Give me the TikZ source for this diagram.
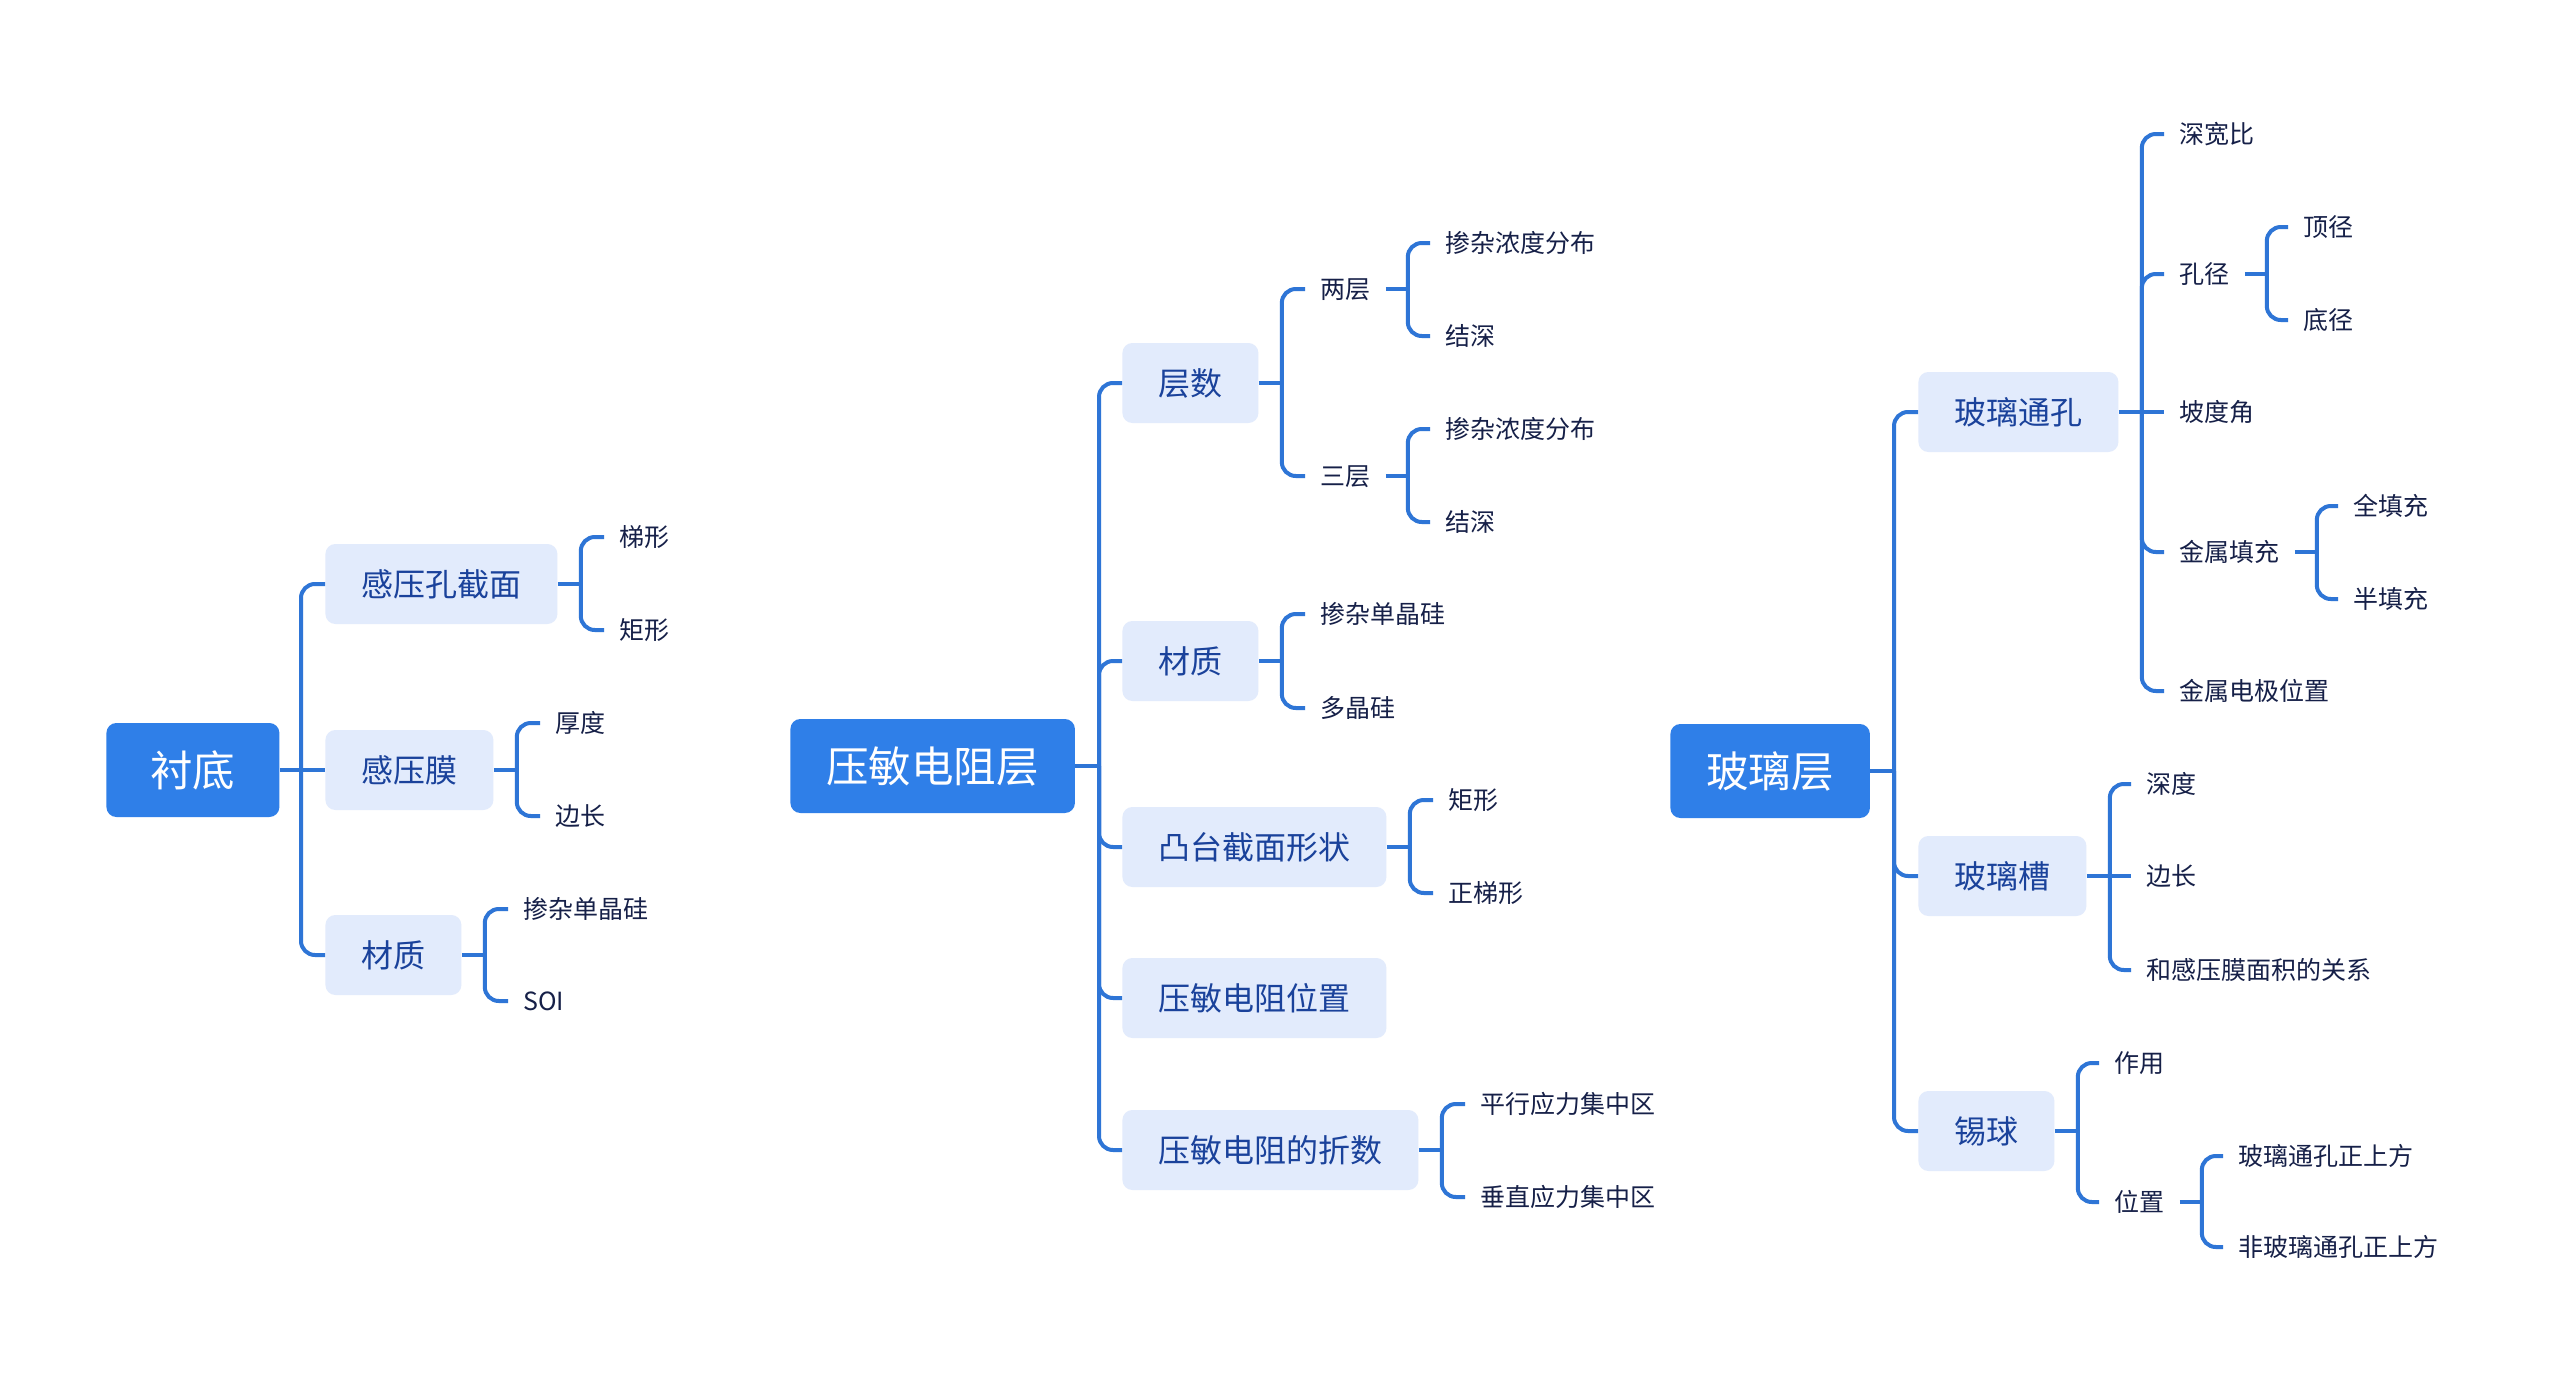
\documentclass[tikz,border=0pt]{standalone}
\usepackage{fontspec}
\newfontfamily\cjk{Noto Sans CJK SC}
\usetikzlibrary{calc}
\definecolor{rootblue}{RGB}{47,127,232}
\definecolor{subfill}{RGB}{226,235,252}
\definecolor{subtext}{RGB}{26,66,155}
\definecolor{leaftext}{RGB}{22,32,72}
\definecolor{linecol}{RGB}{46,117,214}
\newcommand\forkat[2]{\coordinate (#1-f) at ($(#1.east)+(#2,0)$);\draw[conn] (#1.east) -- (#1-f);}
\begin{document}
\begin{tikzpicture}[x=0.5pt,y=-0.5pt,
 rootbox/.style={fill=rootblue, text=white, rounded corners=5pt, font=\cjk\fontsize{21.25}{24}\selectfont, inner xsep=18pt, inner ysep=0pt, minimum height=47pt, anchor=west, text height=18.7pt, text depth=2.5pt},
 subbox/.style={fill=subfill, text=subtext, rounded corners=5pt, font=\cjk\fontsize{16}{19}\selectfont, inner xsep=18pt, inner ysep=0pt, minimum height=40pt, anchor=west, text height=14.1pt, text depth=1.9pt},
 leaf/.style={text=leaftext, font=\cjk\fontsize{12.5}{15}\selectfont, inner xsep=7.5pt, inner ysep=2pt, anchor=west, text height=11pt, text depth=1.5pt},
 conn/.style={draw=linecol, line width=2pt},
 elbow/.style={conn, rounded corners=7pt}]
\useasboundingbox[fill=white] (0,0) rectangle (2560,1381);

% ---------- Root 1: 衬底 ----------
\node[rootbox, minimum width=86.5pt] (r1) at (106,770) {衬底};
\node[subbox] (a1) at (325,584) {感压孔截面};
\node[subbox] (a2) at (325,770) {感压膜};
\node[subbox] (a3) at (325,955) {材质};
\coordinate (t1) at (301,770);
\draw[conn] (r1.east) -- (t1);
\draw[elbow] (t1) |- (a1.west);
\draw[conn] (t1) -- (a2.west);
\draw[elbow] (t1) |- (a3.west);

\node[leaf] (a1l1) at (604,537) {梯形};
\node[leaf] (a1l2) at (604,630) {矩形};
\forkat{a1}{23}
\draw[elbow] (a1-f) |- (a1l1.west);
\draw[elbow] (a1-f) |- (a1l2.west);

\node[leaf] (a2l1) at (540,723) {厚度};
\node[leaf] (a2l2) at (540,816) {边长};
\forkat{a2}{23}
\draw[elbow] (a2-f) |- (a2l1.west);
\draw[elbow] (a2-f) |- (a2l2.west);

\node[leaf] (a3l1) at (508,909) {掺杂单晶硅};
\node[leaf] (a3l2) at (508,1001) {SOI};
\forkat{a3}{23}
\draw[elbow] (a3-f) |- (a3l1.west);
\draw[elbow] (a3-f) |- (a3l2.west);

% ---------- Root 2: 压敏电阻层 ----------
\node[rootbox] (r2) at (790,766) {压敏电阻层};
\node[subbox] (b1) at (1122,383) {层数};
\node[subbox] (b2) at (1122,661) {材质};
\node[subbox] (b3) at (1122,847) {凸台截面形状};
\node[subbox] (b4) at (1122,998) {压敏电阻位置};
\node[subbox] (b5) at (1122,1150) {压敏电阻的折数};
\coordinate (t2) at (1099,766);
\draw[conn] (r2.east) -- (t2);
\foreach \c in {b1,b2,b3,b4,b5} {\draw[elbow] (t2) |- (\c.west);}

\node[leaf] (b1l1) at (1305,289) {两层};
\node[leaf] (b1l2) at (1305,476) {三层};
\forkat{b1}{23}
\draw[elbow] (b1-f) |- (b1l1.west);
\draw[elbow] (b1-f) |- (b1l2.west);

\node[leaf] (b1l1a) at (1430,243) {掺杂浓度分布};
\node[leaf] (b1l1b) at (1430,336) {结深};
\forkat{b1l1}{22}
\draw[elbow] (b1l1-f) |- (b1l1a.west);
\draw[elbow] (b1l1-f) |- (b1l1b.west);

\node[leaf] (b1l2a) at (1430,429) {掺杂浓度分布};
\node[leaf] (b1l2b) at (1430,522) {结深};
\forkat{b1l2}{22}
\draw[elbow] (b1l2-f) |- (b1l2a.west);
\draw[elbow] (b1l2-f) |- (b1l2b.west);

\node[leaf] (b2l1) at (1305,614) {掺杂单晶硅};
\node[leaf] (b2l2) at (1305,708) {多晶硅};
\forkat{b2}{23}
\draw[elbow] (b2-f) |- (b2l1.west);
\draw[elbow] (b2-f) |- (b2l2.west);

\node[leaf] (b3l1) at (1433,800) {矩形};
\node[leaf] (b3l2) at (1433,893) {正梯形};
\forkat{b3}{23}
\draw[elbow] (b3-f) |- (b3l1.west);
\draw[elbow] (b3-f) |- (b3l2.west);

\node[leaf] (b5l1) at (1465,1104) {平行应力集中区};
\node[leaf] (b5l2) at (1465,1197) {垂直应力集中区};
\forkat{b5}{23}
\draw[elbow] (b5-f) |- (b5l1.west);
\draw[elbow] (b5-f) |- (b5l2.west);

% ---------- Root 3: 玻璃层 ----------
\node[rootbox] (r3) at (1670,771) {玻璃层};
\node[subbox] (c1) at (1918,412) {玻璃通孔};
\node[subbox] (c2) at (1918,876) {玻璃槽};
\node[subbox] (c3) at (1918,1131) {锡球};
\coordinate (t3) at (1894,771);
\draw[conn] (r3.east) -- (t3);
\foreach \c in {c1,c2,c3} {\draw[elbow] (t3) |- (\c.west);}

\node[leaf] (c1l1) at (2164,134) {深宽比};
\node[leaf] (c1l2) at (2164,274) {孔径};
\node[leaf] (c1l3) at (2164,412) {坡度角};
\node[leaf] (c1l4) at (2164,552) {金属填充};
\node[leaf] (c1l5) at (2164,691) {金属电极位置};
\forkat{c1}{23}
\draw[elbow] (c1-f) |- (c1l1.west);
\draw[elbow] (c1-f) |- (c1l2.west);
\draw[conn] (c1-f) -- (c1l3.west);
\draw[elbow] (c1-f) |- (c1l4.west);
\draw[elbow] (c1-f) |- (c1l5.west);

\node[leaf] (c1l2a) at (2288,227) {顶径};
\node[leaf] (c1l2b) at (2288,320) {底径};
\forkat{c1l2}{22}
\draw[elbow] (c1l2-f) |- (c1l2a.west);
\draw[elbow] (c1l2-f) |- (c1l2b.west);

\node[leaf] (c1l4a) at (2338,506) {全填充};
\node[leaf] (c1l4b) at (2338,599) {半填充};
\forkat{c1l4}{22}
\draw[elbow] (c1l4-f) |- (c1l4a.west);
\draw[elbow] (c1l4-f) |- (c1l4b.west);

\node[leaf] (c2l1) at (2131,784) {深度};
\node[leaf] (c2l2) at (2131,876) {边长};
\node[leaf] (c2l3) at (2131,970) {和感压膜面积的关系};
\forkat{c2}{23}
\draw[elbow] (c2-f) |- (c2l1.west);
\draw[conn] (c2-f) -- (c2l2.west);
\draw[elbow] (c2-f) |- (c2l3.west);

\node[leaf] (c3l1) at (2099,1063) {作用};
\node[leaf] (c3l2) at (2099,1202) {位置};
\forkat{c3}{23}
\draw[elbow] (c3-f) |- (c3l1.west);
\draw[elbow] (c3-f) |- (c3l2.west);

\node[leaf] (c3l2a) at (2223,1156) {玻璃通孔正上方};
\node[leaf] (c3l2b) at (2223,1247) {非玻璃通孔正上方};
\forkat{c3l2}{22}
\draw[elbow] (c3l2-f) |- (c3l2a.west);
\draw[elbow] (c3l2-f) |- (c3l2b.west);
\end{tikzpicture}
\end{document}
